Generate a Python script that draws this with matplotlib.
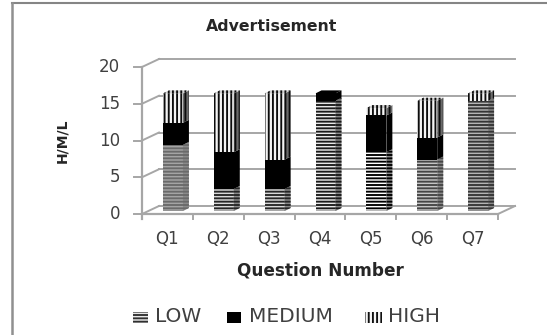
import matplotlib
matplotlib.use('Agg')
import matplotlib.pyplot as plt
from matplotlib.patches import Polygon, Rectangle

questions = ['Q1', 'Q2', 'Q3', 'Q4', 'Q5', 'Q6', 'Q7']
low = [9, 3, 3, 15, 8, 7, 15]
medium = [3, 5, 4, 1, 5, 3, 0]
high = [4, 8, 9, 0, 1, 5, 1]
y_ticks = [0, 5, 10, 15, 20]

# stripe tone of the low segments, the denser ones print greyer
low_stripe = ['#6a6a6a', '#252525', '#252525', '#1a1a1a', '#000000', '#454545', '#353535']
low_back = ['#a4a4a4', '#d8d8d8', '#d8d8d8', '#e8e8e8', '#ffffff', '#c4c4c4', '#b4b4b4']

W, H = 547, 335
X0, X7 = 142, 498      # pixel span of the floor front edge
Y0, Y20 = 214, 67      # pixel span of the value axis
xu = (X7 - X0) / 7
yu = (Y0 - Y20) / 20
grey = '#a6a6a6'
text_col = '#404040'

plt.rcParams['font.family'] = ['DejaVu Sans']
plt.rcParams['hatch.linewidth'] = 1.35

fig = plt.figure(figsize=(W / 100, H / 100), dpi=100)
ax = fig.add_axes([0, 0, 1, 1])
ax.set_xlim(-X0 / xu, (W - X0) / xu)
ax.set_ylim(-(H - Y0) / yu, Y0 / yu)
ax.axis('off')


def px(x):
    return (x - X0) / xu


def py(y):
    return (Y0 - y) / yu


# wall depth and bar placement, in data units
wall_dx, wall_dy = 17 / xu, 8 / yu
shift_x, shift_y = 5.5 / xu, 3 / yu
bar_w = 20 / xu
side_dx, side_dy = 6 / xu, 3 / yu

# only the top and left of the chart frame are visible
ax.plot([px(11.5), px(W)], [py(3), py(3)], color='#858585', lw=1.5, zorder=1)
ax.plot([px(11.5), px(11.5)], [py(3), py(H)], color='#909090', lw=1.8, zorder=1)

# back wall gridlines and their slanted ends on the left wall
for t in y_ticks:
    ax.plot([wall_dx, 7 + wall_dx], [t + wall_dy, t + wall_dy], color=grey, lw=1.4, zorder=1)
    ax.plot([0, wall_dx], [t, t + wall_dy], color=grey, lw=1.4, zorder=1)
    ax.plot([-8 / xu, 0], [t, t], color=grey, lw=1.4, zorder=1)
    ax.text(-22 / xu, t, str(t), ha='right', va='center', fontsize=12, color=text_col)

# floor and front axis
ax.plot([0, 0], [-5 / yu, 20], color=grey, lw=1.6, zorder=2)
ax.plot([0, 7], [0, 0], color=grey, lw=1.6, zorder=2)
ax.plot([7, 7 + wall_dx], [0, wall_dy], color=grey, lw=1.4, zorder=2)
for i in range(8):
    ax.plot([i, i], [0, -5 / yu], color=grey, lw=1.4, zorder=2)


def draw_segment(i, base, height, hatch, stripe, back, side_face, top=False):
    if height == 0:
        return
    solid = hatch is None
    left = i + 0.5 + shift_x - bar_w / 2
    right = left + bar_w
    y0 = base + shift_y
    y1 = y0 + height
    ax.bar(left, height, bar_w, bottom=y0, align='edge', color=back, edgecolor=stripe,
           hatch=hatch, linewidth=0, zorder=4)
    side = [(right, y0), (right + side_dx, y0 + side_dy),
            (right + side_dx, y1 + side_dy), (right, y1)]
    ax.add_patch(Polygon(side, closed=True, facecolor=side_face, edgecolor=stripe,
                         hatch=hatch, linewidth=0, zorder=4))
    if top:
        cap = [(left, y1), (right, y1), (right + side_dx, y1 + side_dy), (left + side_dx, y1 + side_dy)]
        ax.add_patch(Polygon(cap, closed=True, facecolor='black' if solid else '#d0d0d0',
                             edgecolor=stripe, hatch=hatch, linewidth=0, zorder=4))


for i in range(len(questions)):
    draw_segment(i, 0, low[i], '-----', low_stripe[i], low_back[i], '#8a8a8a')
    draw_segment(i, low[i], medium[i], None, 'black', 'black', 'black', top=high[i] == 0)
    draw_segment(i, low[i] + medium[i], high[i], '||||', '#0c0c0c', '#f4f4f4', '#6a6a6a', top=True)
    ax.text(i + 0.5, py(239), questions[i], ha='center', va='center', fontsize=12, color=text_col)

axis_font = dict(fontweight='bold', color='#262626', ha='center', va='center')
ax.text(px(320), py(271), 'Question Number', fontsize=12.2, **axis_font)
ax.text(px(272), py(26), 'Advertisement', fontsize=11.3, **axis_font)
ax.text(px(62), py(141), 'H/M/L', fontsize=10, rotation=90, **axis_font)

# hand placed legend row
legend_y = py(317)
swatch_h = 11 / yu
ax.add_patch(Rectangle((px(133), legend_y - swatch_h / 2), 15 / xu, swatch_h,
                       facecolor='#e8e8e8', edgecolor='#303030', hatch='-----', linewidth=0))
ax.add_patch(Rectangle((px(227), legend_y - swatch_h / 2), 14 / xu, swatch_h,
                       facecolor='black', linewidth=0))
ax.add_patch(Rectangle((px(365), legend_y - swatch_h / 2), 17 / xu, swatch_h,
                       facecolor='#f4f4f4', edgecolor='#101010', hatch='||||', linewidth=0))
for x_pos, name in [(155, 'LOW'), (249, 'MEDIUM'), (388, 'HIGH')]:
    ax.text(px(x_pos), legend_y, name, ha='left', va='center', fontsize=14.5, color=text_col)

fig.savefig('out.png', dpi=100)
